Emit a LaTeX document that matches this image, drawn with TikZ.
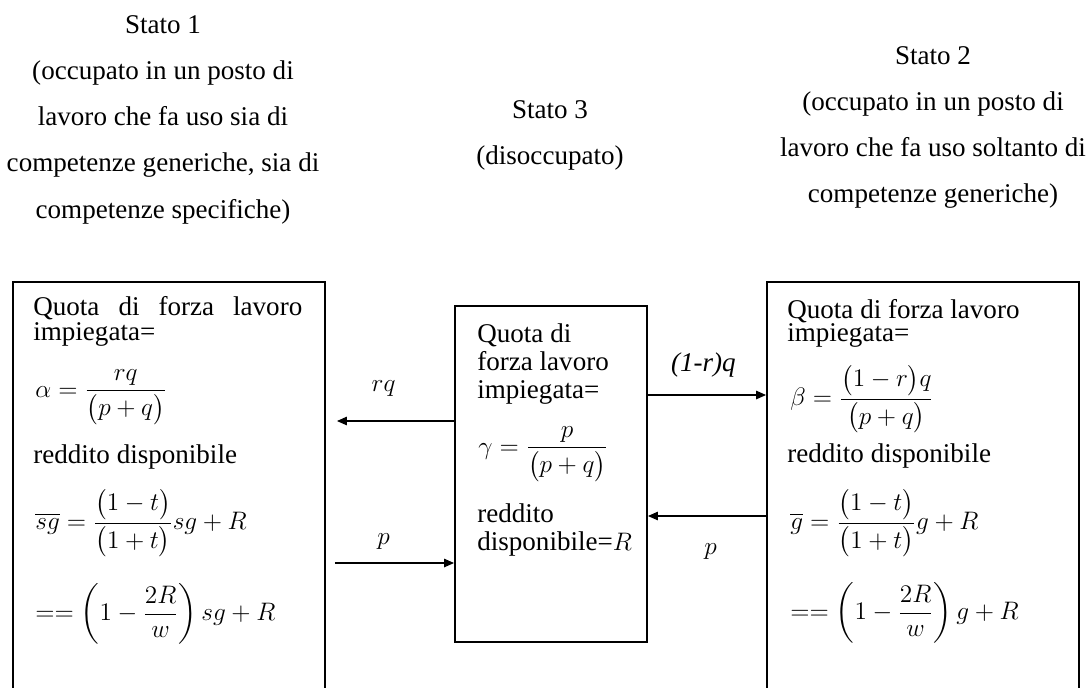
\documentclass[tikz,border=0pt]{standalone}
\usepackage{amsmath}
\usepackage{fontspec}
\setmainfont{Liberation Serif}
\usepackage{tikz}
\usetikzlibrary{arrows.meta, positioning}

\begin{document}
\begin{tikzpicture}[x=0.02cm, y=-0.02cm,
    statebox/.style={draw, line width=1.1pt, inner sep=0pt},
    txt/.style={inner sep=0pt, font=\fontsize{15.4}{15.4}\selectfont},
    formula/.style={inner sep=0pt, anchor=west, font=\fontsize{15.4}{15.4}\selectfont},
    head/.style={inner sep=0pt, align=center, anchor=north,
      font=\fontsize{15.4}{26.3}\selectfont},
    arr/.style={line width=0.75pt, -{Triangle[length=0.2cm, width=0.17cm]}},
    lbl/.style={inner sep=0pt, font=\fontsize{15.4}{15.4}\selectfont}]
    \useasboundingbox (0,0) rectangle (1088,687);
    \clip (0,0) rectangle (1088,687);

    % Intestazioni
    \node[head] (h1) at (163,15) {Stato 1\\(occupato in un posto di\\lavoro che fa uso sia di\\competenze generiche, sia di\\competenze specifiche)};
    \node[head] (h3) at (550,100) {Stato 3\\(disoccupato)};
    \node[head] (h2) at (933,46) {Stato 2\\(occupato in un posto di\\lavoro che fa uso soltanto di\\competenze generiche)};

    % Riquadri
    \node[statebox, minimum width=6.24cm, minimum height=8.36cm] (s1) at (169,491) {};
    \node[statebox, minimum width=3.84cm, minimum height=6.72cm] (s3) at (551,474) {};
    \node[statebox, minimum width=6.24cm, minimum height=8.36cm] (s2) at (923,491) {};

    % Stato 1
    \node[txt, anchor=base west, text width=5.38cm] (q1) at (33,315) {Quota\hfill di\hfill forza\hfill lavoro};
    \node[txt, anchor=base west] (i1) at (33,340) {impiegata=};
    \node[formula] (a1) at (35,397) {$\alpha = \dfrac{rq}{\bigl(p+q\bigr)}$};
    \node[txt, anchor=base west] (r1) at (33,463) {reddito disponibile};
    \node[formula] (g1) at (35,523) {$\overline{s}\overline{g} = \dfrac{\bigl(1-t\bigr)}{\bigl(1+t\bigr)}sg + R$};
    \node[formula] (e1) at (35,614) {$== \left(1-\dfrac{2R}{w}\right)sg + R$};

    % Stato 3
    \node[txt, anchor=base west] (q3) at (477,342) {Quota di};
    \node[txt, anchor=base west] (f3) at (477,370) {forza lavoro};
    \node[txt, anchor=base west] (i3) at (477,398) {impiegata=};
    \node[formula] (c3) at (478,454) {$\gamma = \dfrac{p}{\bigl(p+q\bigr)}$};
    \node[txt, anchor=base west] (r3) at (477,522) {reddito};
    \node[txt, anchor=base west] (d3) at (477,550) {disponibile=$R$};

    % Stato 2
    \node[txt, anchor=base west] (q2) at (787,318) {Quota di forza lavoro};
    \node[txt, anchor=base west] (i2) at (787,341) {impiegata=};
    \node[formula] (b2) at (790,399) {$\beta = \dfrac{\bigl(1-r\bigr)q}{\bigl(p+q\bigr)}$};
    \node[txt, anchor=base west] (r2) at (787,462) {reddito disponibile};
    \node[formula] (g2) at (790,523) {$\overline{g} = \dfrac{\bigl(1-t\bigr)}{\bigl(1+t\bigr)}g + R$};
    \node[formula] (e2) at (790,613) {$== \left(1-\dfrac{2R}{w}\right)g + R$};

    % Transizioni
    \draw[arr, shorten >=0.22cm] (s3.west |- 0,421) -- node[lbl, pos=0.55, yshift=0.66cm] {$rq$} (s1.east |- 0,421);
    \draw[arr, shorten <=0.18cm] (s1.east |- 0,563) -- node[lbl, pos=0.45, yshift=0.43cm] {$p$} (s3.west |- 0,563);
    \draw[arr] (s3.east |- 0,395) -- node[lbl, pos=0.47, yshift=0.6cm] {\textit{(1-r)q}} (s2.west |- 0,395);
    \draw[arr] (s2.west |- 0,516) -- node[lbl, pos=0.47, yshift=-0.72cm] {$p$} (s3.east |- 0,516);
  \end{tikzpicture}
\end{document}
